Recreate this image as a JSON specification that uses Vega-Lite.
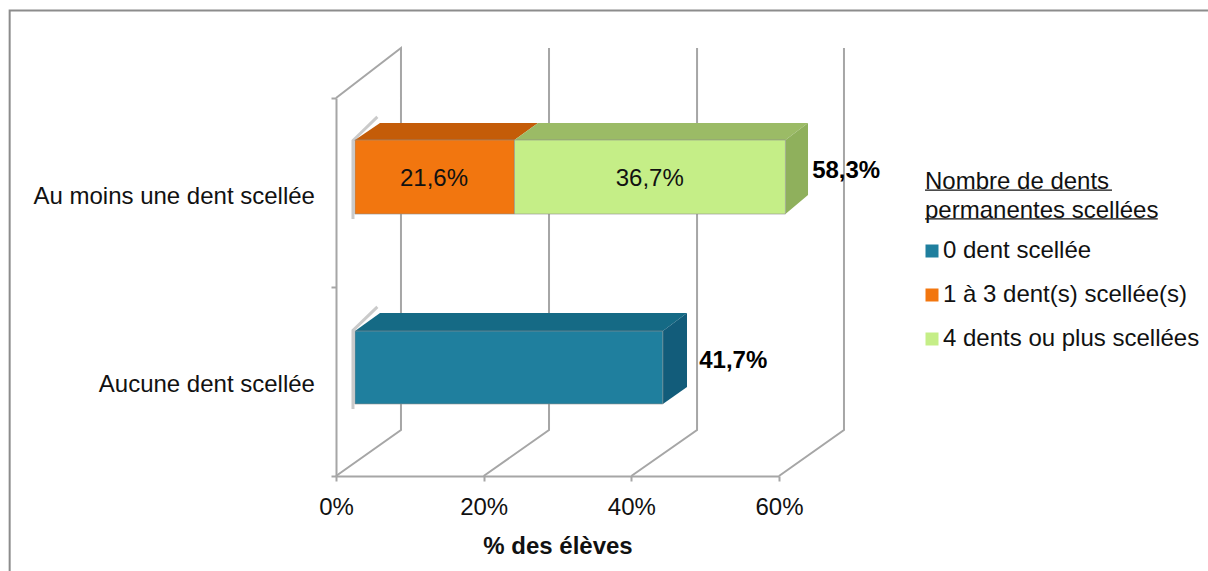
{
"$schema":"https://vega.github.io/schema/vega-lite/v6.json",
"width":443,"height":378,
"autosize":{"type":"none"},
"padding":{"left":336,"top":98,"right":429,"bottom":95},
"background":"white",
"config":{"font":"Liberation Sans","view":{"stroke":null}},
"datasets":{
"cadre":[{"pct":-44.2,"niveau":-0.503,"o":1},{"pct":-44.2,"niveau":2.463,"o":2},{"pct":118.1,"niveau":2.463,"o":3}],
"grille":[
{"l":"g0","pct":0,"niveau":0,"o":1},{"l":"g0","pct":8.8,"niveau":0.243,"o":2},{"l":"g0","pct":8.8,"niveau":2.265,"o":3},{"l":"g0","pct":0,"niveau":2,"o":4},
{"l":"g20","pct":20,"niveau":0,"o":1},{"l":"g20","pct":28.85,"niveau":0.243,"o":2},{"l":"g20","pct":28.85,"niveau":2.265,"o":3},
{"l":"g40","pct":40,"niveau":0,"o":1},{"l":"g40","pct":48.9,"niveau":0.243,"o":2},{"l":"g40","pct":48.9,"niveau":2.265,"o":3},
{"l":"g60","pct":60,"niveau":0,"o":1},{"l":"g60","pct":68.8,"niveau":0.243,"o":2},{"l":"g60","pct":68.8,"niveau":2.265,"o":3}],
"ombre":[
{"l":"a","pct":2.3,"niveau":1.36,"o":1},{"l":"a","pct":2.3,"niveau":1.775,"o":2},{"l":"a","pct":5.6,"niveau":1.9,"o":3},
{"l":"b","pct":2.3,"niveau":0.355,"o":1},{"l":"b","pct":2.3,"niveau":0.77,"o":2},{"l":"b","pct":5.6,"niveau":0.895,"o":3}],
"faces":[
{"f":"o_top","pct":2.57,"niveau":1.778,"o":1},{"f":"o_top","pct":5.96,"niveau":1.868,"o":2},{"f":"o_top","pct":27.36,"niveau":1.868,"o":3},{"f":"o_top","pct":24.17,"niveau":1.778,"o":4},
{"f":"g_top","pct":24.17,"niveau":1.778,"o":1},{"f":"g_top","pct":27.36,"niveau":1.868,"o":2},{"f":"g_top","pct":63.93,"niveau":1.868,"o":3},{"f":"g_top","pct":60.87,"niveau":1.778,"o":4},
{"f":"g_side","pct":60.87,"niveau":1.778,"o":1},{"f":"g_side","pct":63.93,"niveau":1.868,"o":2},{"f":"g_side","pct":63.93,"niveau":1.487,"o":3},{"f":"g_side","pct":60.87,"niveau":1.386,"o":4},
{"f":"b_top","pct":2.57,"niveau":0.767,"o":1},{"f":"b_top","pct":5.96,"niveau":0.862,"o":2},{"f":"b_top","pct":47.54,"niveau":0.862,"o":3},{"f":"b_top","pct":44.27,"niveau":0.767,"o":4},
{"f":"b_side","pct":44.27,"niveau":0.767,"o":1},{"f":"b_side","pct":47.54,"niveau":0.862,"o":2},{"f":"b_side","pct":47.54,"niveau":0.471,"o":3},{"f":"b_side","pct":44.27,"niveau":0.381,"o":4}],
"barres":[
{"serie":"0 dent scellée","pct":2.57,"fin":44.27,"niveau":0.381,"haut":0.767,"valeur":41.7},
{"serie":"1 à 3 dent(s) scellée(s)","pct":2.57,"fin":24.17,"niveau":1.386,"haut":1.778,"valeur":21.6},
{"serie":"4 dents ou plus scellées","pct":24.17,"fin":60.87,"niveau":1.386,"haut":1.778,"valeur":36.7}],
"etiquettes":[
{"pct":13.27,"niveau":1.572,"texte":"21,6%"},
{"pct":42.5,"niveau":1.572,"texte":"36,7%"}],
"totaux":[
{"pct":69.1,"niveau":1.614,"texte":"58,3%"},
{"pct":53.8,"niveau":0.608,"texte":"41,7%"}],
"categories":[
{"pct":-2.85,"niveau":1.475,"texte":"Au moins une dent scellée"},
{"pct":-2.85,"niveau":0.482,"texte":"Aucune dent scellée"}],
"soulignes":[
{"l":"s1","pct":79.78,"niveau":1.513,"o":1},{"l":"s1","pct":105.1,"niveau":1.513,"o":2},
{"l":"s2","pct":79.78,"niveau":1.36,"o":1},{"l":"s2","pct":111.3,"niveau":1.36,"o":2}]
},
"encoding":{
"x":{"field":"pct","type":"quantitative","scale":{"domain":[0,60],"nice":false},
"axis":{"values":[0,20,40,60],"labelExpr":"datum.value+'%'","labelFlush":false,"labelOverlap":false,"title":"% des élèves","grid":false,"domainColor":"#a6a6a6","domainWidth":2,"tickColor":"#a6a6a6","tickWidth":2,"tickSize":5,"labelFontSize":24,"labelColor":"#111","labelPadding":14,"titleFontSize":24,"titleFontWeight":"bold","titleColor":"#111","titlePadding":15}},
"y":{"field":"niveau","type":"quantitative","scale":{"domain":[0,2],"nice":false},
"axis":{"values":[0,1,2],"labels":false,"title":null,"grid":false,"domainColor":"#a6a6a6","domainWidth":2,"tickColor":"#a6a6a6","tickWidth":2,"tickSize":5}}
},
"layer":[
{"data":{"name":"cadre"},"mark":{"type":"line","stroke":"#8c8c8c","strokeWidth":2},"encoding":{"order":{"field":"o"}}},
{"data":{"name":"grille"},"mark":{"type":"line","stroke":"#a6a6a6","strokeWidth":2},"encoding":{"detail":{"field":"l"},"order":{"field":"o"}}},
{"data":{"name":"ombre"},"mark":{"type":"line","stroke":"#8a8a8a","strokeWidth":3,"opacity":0.45},"encoding":{"detail":{"field":"l"},"order":{"field":"o"}}},
{"data":{"name":"faces"},"mark":{"type":"line","strokeWidth":0},"encoding":{"fill":{"field":"f","type":"nominal","legend":null,"scale":{"domain":["o_top","g_top","g_side","b_top","b_side"],"range":["#C45C08","#9BBB66","#8FB05C","#156A85","#125C7A"]}},"order":{"field":"o"}}},
{"data":{"name":"barres"},"mark":{"type":"rect","stroke":"#8f8f8f","strokeWidth":0.6},"encoding":{"x2":{"field":"fin"},"y2":{"field":"haut"},
"color":{"field":"serie","type":"nominal","scale":{"domain":["0 dent scellée","1 à 3 dent(s) scellée(s)","4 dents ou plus scellées"],"range":["#1F7F9E","#F2760F","#C5EE87"]},
"legend":{"orient":"none","legendX":589,"legendY":72,"title":["Nombre de dents","permanentes scellées"],"titleFontSize":24,"titleFontWeight":"normal","titleColor":"#111","titleLineHeight":29,"titlePadding":16,"titleLimit":400,"labelFontSize":24,"labelColor":"#111","labelLimit":400,"labelOffset":-1,"symbolType":"square","symbolSize":169,"symbolStrokeWidth":0,"symbolOffset":-5,"rowPadding":20}}}},
{"data":{"name":"etiquettes"},"mark":{"type":"text","fontSize":24,"color":"#111"},"encoding":{"text":{"field":"texte"}}},
{"data":{"name":"totaux"},"mark":{"type":"text","fontSize":24,"fontWeight":"bold","color":"#000"},"encoding":{"text":{"field":"texte"}}},
{"data":{"name":"categories"},"mark":{"type":"text","fontSize":24,"color":"#111","align":"right"},"encoding":{"text":{"field":"texte"}}},
{"data":{"name":"soulignes"},"mark":{"type":"line","stroke":"#111","strokeWidth":1.2},"encoding":{"detail":{"field":"l"},"order":{"field":"o"}}}
]
}
